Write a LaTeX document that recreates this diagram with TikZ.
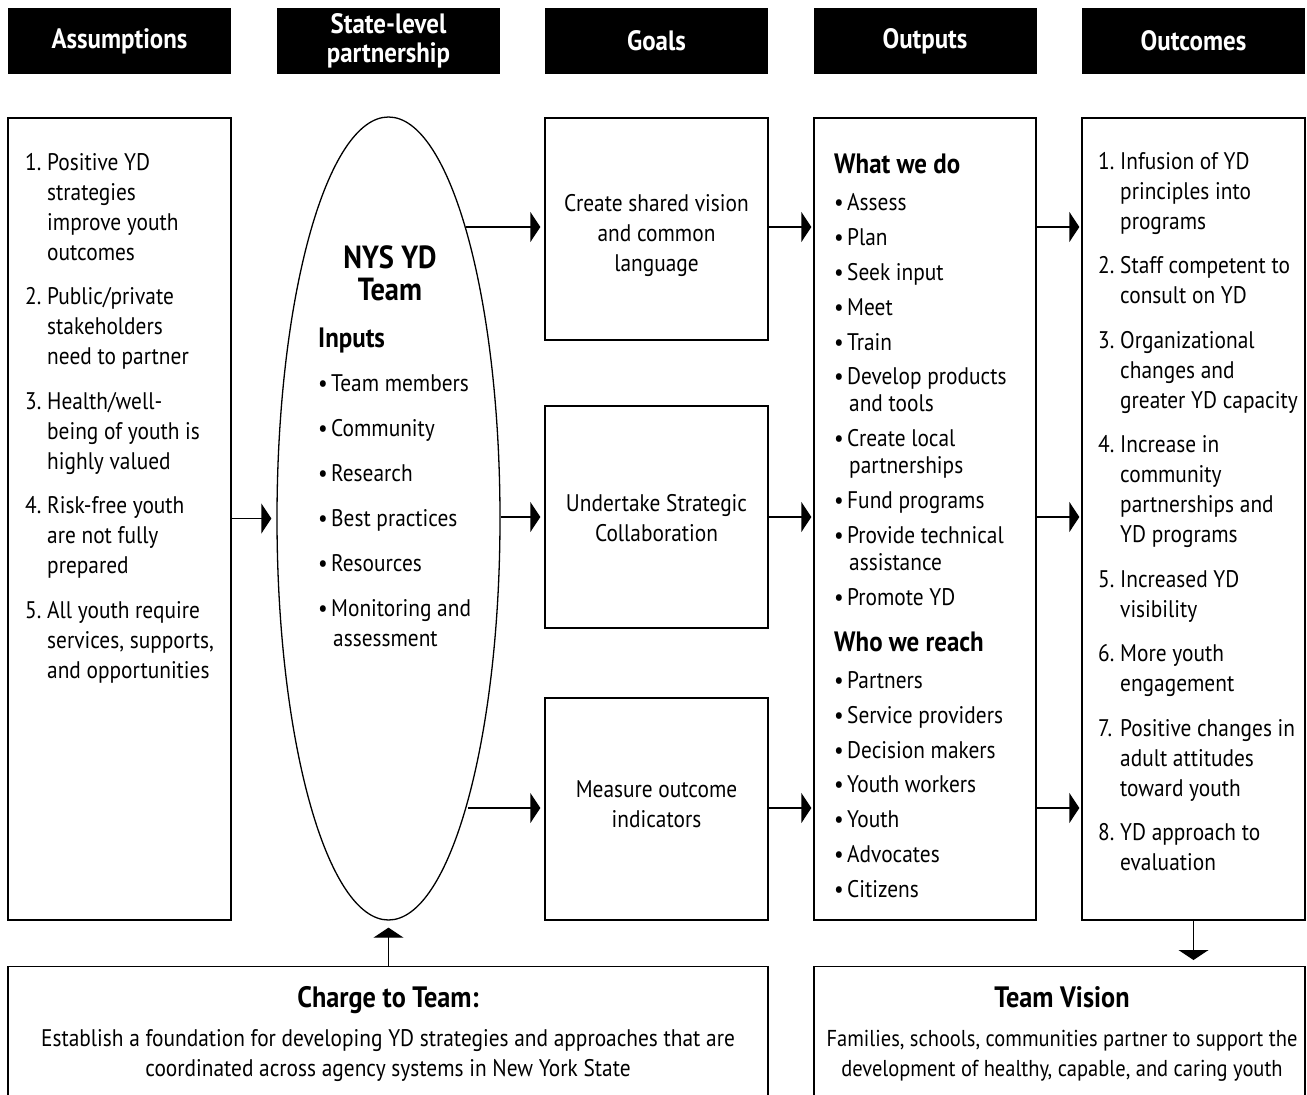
\documentclass[tikz,border=0pt]{standalone}
\usepackage{fontspec}
\setmainfont{PT Sans}[FakeStretch=0.89]
\usetikzlibrary{arrows.meta,shapes.geometric}

\newcommand{\nm}[1]{\makebox[22pt][l]{#1}}
\newcommand{\ind}{\hspace*{22pt}}
\newcommand{\bul}{\makebox[13pt][l]{\textbullet}}
\newcommand{\bsp}{\hspace*{15pt}}
\newcommand{\subhd}[1]{{\fontsize{28}{30}\selectfont\bfseries #1}}

\tikzset{
  hdr/.style={fill=black, text=white, minimum width=223pt, minimum height=66pt,
    inner sep=0pt, align=center, font=\fontsize{28}{29}\selectfont\bfseries},
  panel/.style={draw, line width=1.3pt, inner sep=0pt, minimum width=223pt},
  txt/.style={inner sep=0pt, align=left, font=\fontsize{24}{30}\selectfont},
  ctxt/.style={inner sep=0pt, align=center, font=\fontsize{24}{30}\selectfont},
  lnk/.style={line width=1.3pt, -{Triangle[length=10pt,width=30pt]}},
}

\begin{document}
\begin{tikzpicture}[x=1pt, y=-1pt]
\useasboundingbox (0,0) rectangle (1307,1095);
\clip (0,0) rectangle (1307,1095);
% Column headers
\node[hdr] (h1) at (119.5,41) {Assumptions};
\node[hdr] (h2) at (388.5,41) {State-level\\partnership};
\node[hdr] (h3) at (656.5,41) {Goals};
\node[hdr] (h4) at (925,41) {Outputs};
\node[hdr] (h5) at (1193.5,41) {Outcomes};
% Panels
\node[panel, minimum height=802pt] (assum) at (119.5,519) {};
\node[draw, ellipse, line width=1.3pt, inner sep=0pt, minimum width=223pt, minimum height=803pt] (team) at (388.5,518.5) {};
\node[panel, minimum height=222pt] (goal1) at (656.5,229) {};
\node[panel, minimum height=222pt] (goal2) at (656.5,517) {};
\node[panel, minimum height=222pt] (goal3) at (656.5,809) {};
\node[panel, minimum width=222pt, minimum height=802pt] (outp) at (925,519) {};
\node[panel, minimum height=802pt] (outc) at (1193.5,519) {};
% Goal texts
\node[ctxt] (goaltxt1) at (656.5,235) {Create shared vision\\and common\\language};
\node[ctxt] (goaltxt2) at (656.5,518) {Undertake Strategic\\Collaboration};
\node[ctxt] (goaltxt3) at (656.5,804) {Measure outcome\\indicators};
% Assumptions list
\node[txt, anchor=north west] (asslist) at (25,153) {%
  \nm{1.}Positive YD\\ \ind strategies\\ \ind improve youth\\ \ind outcomes\\[14.5pt]
  \nm{2.}Public/private\\ \ind stakeholders\\ \ind need to partner\\[14.5pt]
  \nm{3.}Health/well-\\ \ind being of youth is\\ \ind highly valued\\[14.5pt]
  \nm{4.}Risk-free youth\\ \ind are not fully\\ \ind prepared\\[14.5pt]
  \nm{5.}All youth require\\ \ind services, supports,\\ \ind and opportunities};
% Team and inputs
\node[inner sep=0pt, align=center, font=\fontsize{32}{32}\selectfont\bfseries] (teamtitle) at (390,273) {NYS YD\\Team};
\node[txt, anchor=north west] (inputs) at (318,328) {%
  \subhd{Inputs}\\[14pt]
  \bul Team members\\[15pt]
  \bul Community\\[15pt]
  \bul Research\\[15pt]
  \bul Best practices\\[15pt]
  \bul Resources\\[15pt]
  \bul Monitoring and\\ \hspace*{15pt}assessment};
% Outputs list
\node[txt, font=\fontsize{24}{27}\selectfont, anchor=north west] (dolist) at (834,154) {%
  \subhd{What we do}\\[10pt]
  \bul Assess\\[7.8pt]
  \bul Plan\\[7.8pt]
  \bul Seek input\\[7.8pt]
  \bul Meet\\[7.8pt]
  \bul Train\\[7.8pt]
  \bul Develop products\\ \bsp and tools\\[7.8pt]
  \bul Create local\\ \bsp partnerships\\[7.8pt]
  \bul Fund programs\\[7.8pt]
  \bul Provide technical\\ \bsp assistance\\[7.8pt]
  \bul Promote YD\\[19pt]
  \subhd{Who we reach}\\[10.5pt]
  \bul Partners\\[7.8pt]
  \bul Service providers\\[7.8pt]
  \bul Decision makers\\[7.8pt]
  \bul Youth workers\\[7.8pt]
  \bul Youth\\[7.8pt]
  \bul Advocates\\[7.8pt]
  \bul Citizens};
% Outcomes list
\node[txt, anchor=north west] (outlist) at (1098,152) {%
  \nm{1.}Infusion of YD\\ \ind principles into\\ \ind programs\\[14.5pt]
  \nm{2.}Staff competent to\\ \ind consult on YD\\[14.5pt]
  \nm{3.}Organizational\\ \ind changes and\\ \ind greater YD capacity\\[14.5pt]
  \nm{4.}Increase in\\ \ind community\\ \ind partnerships and\\ \ind YD programs\\[14.5pt]
  \nm{5.}Increased YD\\ \ind visibility\\[14.5pt]
  \nm{6.}More youth\\ \ind engagement\\[14.5pt]
  \nm{7.}Positive changes in\\ \ind adult attitudes\\ \ind toward youth\\[14.5pt]
  \nm{8.}YD approach to\\ \ind evaluation};
% Bottom boxes
\node[draw, line width=1.3pt, minimum width=760pt, minimum height=150pt, anchor=north] (charge) at (388,966) {};
\node[draw, line width=1.3pt, minimum width=491pt, minimum height=150pt, anchor=north] (vision) at (1059.5,966) {};
\node[ctxt, anchor=north] (chargetxt) at (388,986) {%
  {\fontsize{29.5}{30}\selectfont\bfseries Charge to Team:}\\[9pt]
  Establish a foundation for developing YD strategies and approaches that are\\
  coordinated across agency systems in New York State};
\node[ctxt, font=\fontsize{23}{30}\selectfont, anchor=north] (visiontxt) at (1062,986) {%
  {\fontsize{29.5}{30}\selectfont\bfseries Team Vision}\\[9pt]
  Families, schools, communities partner to support the\\
  development of healthy, capable, and caring youth};
% Connectors
\coordinate (t1) at (466,227);
\coordinate (t3) at (468,808);
\draw[lnk, shorten >=5pt] (assum.east |- team.center) -- (team.west);
\draw[lnk, shorten >=4pt] (t1) -- (t1 -| goal1.west);
\draw[lnk, shorten >=4pt] (team.east |- goal2) -- (goal2.west);
\draw[lnk, shorten >=4pt] (t3) -- (t3 -| goal3.west);
\draw[lnk, shorten >=2pt] (goal1.east |- t1) -- (t1 -| outp.west);
\draw[lnk, shorten >=2pt] (goal2.east) -- (goal2.east -| outp.west);
\draw[lnk, shorten >=2pt] (goal3.east |- t3) -- (t3 -| outp.west);
\draw[lnk, shorten >=2pt] (outp.east |- t1) -- (t1 -| outc.west);
\draw[lnk, shorten >=2pt] (outp.east |- goal2) -- (goal2 -| outc.west);
\draw[lnk, shorten >=2pt] (outp.east |- t3) -- (t3 -| outc.west);
\draw[lnk, shorten >=7pt] (charge.north -| team.south) -- (team.south);
\draw[lnk, shorten >=6pt] (outc.south) -- (outc.south |- vision.north);
\end{tikzpicture}
\end{document}
